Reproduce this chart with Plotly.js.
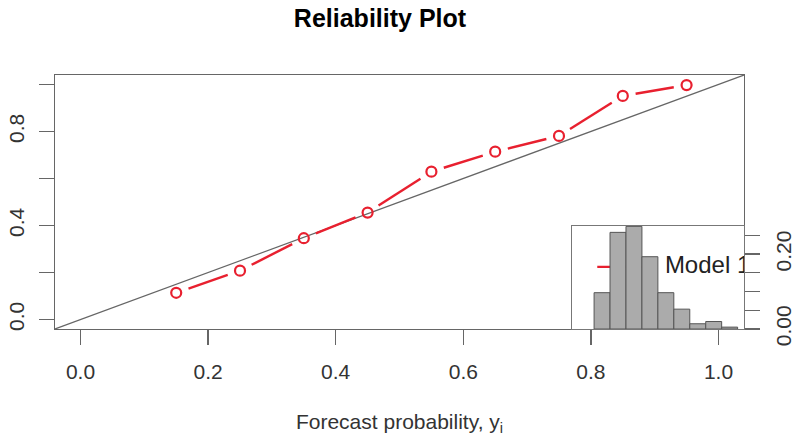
<!DOCTYPE html>
<html>
<head>
<meta charset="utf-8">
<script src="https://cdn.plot.ly/plotly-3.0.1.min.js"></script>
<style>html,body{margin:0;padding:0;background:#fff;}#chart{width:800px;height:443px;}</style>
</head>
<body>
<div id="chart"></div>
<script>
// ---- data ----
const forecastBins = [0.15, 0.25, 0.35, 0.45, 0.55, 0.65, 0.75, 0.85, 0.95];
const observedFreq = [0.114, 0.208, 0.346, 0.455, 0.629, 0.714, 0.781, 0.951, 0.997];
const histFreq = [0.097, 0.258, 0.274, 0.193, 0.097, 0.053, 0.014, 0.020, 0.005];
const seriesName = "Model 1";
const xTickVals = [0, 0.2, 0.4, 0.6, 0.8, 1.0];
const xTickText = ["0.0", "0.2", "0.4", "0.6", "0.8", "1.0"];
const yTickVals = [0, 0.4, 0.8];
const yTickText = ["0.0", "0.4", "0.8"];
const histTickVals = [0, 0.20];
const histTickText = ["0.00", "0.20"];

// ---- layout constants ----
const W = 800, H = 443;
const M = {l: 55, r: 56, t: 75, b: 114};
const xRange = [-0.04, 1.04], yRange = [-0.04, 1.04];
const sx = (W - M.l - M.r) / (xRange[1] - xRange[0]);
const sy = (H - M.t - M.b) / (yRange[1] - yRange[0]);
const RED = '#e8202f';
const FONT = 'Liberation Sans, Arial, Helvetica, sans-serif';

// line segments with gaps around the points (R type="b")
function gapped(xs, ys, gapPx) {
  const gx = [], gy = [];
  for (let i = 0; i < xs.length - 1; i++) {
    const dx = (xs[i+1] - xs[i]) * sx, dy = (ys[i+1] - ys[i]) * sy;
    const L = Math.hypot(dx, dy);
    if (L <= 2 * gapPx) continue;
    const ux = dx / L, uy = dy / L;
    gx.push(xs[i] + ux * gapPx / sx, xs[i+1] - ux * gapPx / sx, null);
    gy.push(ys[i] + uy * gapPx / sy, ys[i+1] - uy * gapPx / sy, null);
  }
  return {x: gx, y: gy};
}
const seg = gapped(forecastBins, observedFreq, 13);

// legend position (main data coords) inside the inset area
const legY = 0.224;
const legLineX = [0.81, 0.88];
const legTextX = 0.916;

const traces = [
  {x: xRange, y: yRange, mode: 'lines', line: {color: '#666', width: 1.2}, hoverinfo: 'skip', showlegend: false, xaxis: 'x', yaxis: 'y'},
  {x: seg.x, y: seg.y, mode: 'lines', line: {color: RED, width: 2.4}, showlegend: false, xaxis: 'x', yaxis: 'y', connectgaps: false},
  {x: forecastBins, y: observedFreq, mode: 'markers', name: seriesName,
   marker: {symbol: 'circle-open', size: 10, color: RED, line: {color: RED, width: 2.2}}, showlegend: false, xaxis: 'x', yaxis: 'y'},
  // legend sample
  {x: legLineX, y: [legY, legY], mode: 'lines', line: {color: RED, width: 2.4}, showlegend: false, hoverinfo: 'skip', xaxis: 'x', yaxis: 'y'},
  {x: [legTextX], y: [legY], mode: 'text', text: [seriesName], textposition: 'middle right', cliponaxis: true,
   textfont: {family: FONT, size: 24, color: '#222'}, showlegend: false, hoverinfo: 'skip', xaxis: 'x', yaxis: 'y'},
  // inset histogram
  {type: 'bar', x: forecastBins, y: histFreq, width: 0.1, marker: {color: '#ababab', line: {color: '#555', width: 1}},
   showlegend: false, xaxis: 'x2', yaxis: 'y2'}
];

const axisFont = {family: FONT, size: 21, color: '#333'};
const layout = {
  width: W, height: H,
  margin: M,
  paper_bgcolor: '#ffffff',
  plot_bgcolor: 'rgba(0,0,0,0)',
  font: {family: FONT, color: '#222'},
  showlegend: false,
  title: {text: '<b>Reliability Plot</b>', font: {family: FONT, size: 25, color: '#000'},
          xref: 'container', x: 0.475, xanchor: 'center', yref: 'container', y: 0.958, yanchor: 'middle'},
  xaxis: {
    domain: [0, 1], range: xRange, showgrid: false, zeroline: false,
    showline: true, mirror: true, linecolor: '#666', linewidth: 1.3,
    ticks: 'outside', ticklen: 15, tickcolor: '#666', tickwidth: 1.3,
    tickvals: xTickVals, ticktext: xTickText, tickfont: axisFont, ticklabelstandoff: 8,
    title: {text: 'Forecast probability, y<sub>i</sub>', font: {family: FONT, size: 21, color: '#333'}, standoff: 32}
  },
  yaxis: {
    domain: [0, 1], range: yRange, showgrid: false, zeroline: false,
    showline: true, mirror: true, linecolor: '#666', linewidth: 1.3,
    ticks: 'outside', ticklen: 15, tickcolor: '#666', tickwidth: 1.3,
    tickvals: yTickVals, ticktext: yTickText, tickfont: axisFont, tickangle: -90, ticklabelstandoff: 6,
    minor: {tick0: 0, dtick: 0.2, ticks: 'outside', ticklen: 15, tickcolor: '#666', tickwidth: 1.3, showgrid: false}
  },
  xaxis2: {
    domain: [0.75, 1], range: xRange, anchor: 'y2', showgrid: false, zeroline: false,
    showline: true, mirror: true, linecolor: '#777', linewidth: 1.2, showticklabels: false, ticks: ''
  },
  yaxis2: {
    domain: [0, 0.4055], range: [0, 0.275], anchor: 'x2', side: 'right', showgrid: false, zeroline: false,
    showline: true, mirror: true, linecolor: '#777', linewidth: 1.2,
    ticks: 'outside', ticklen: 15, tickcolor: '#666', tickwidth: 1.2,
    tickvals: histTickVals, ticktext: histTickText, tickfont: axisFont, tickangle: -90, ticklabelstandoff: 6,
    minor: {tick0: 0, dtick: 0.05, ticks: 'outside', ticklen: 15, tickcolor: '#666', tickwidth: 1.2, showgrid: false}
  },
  bargap: 0
};

Plotly.newPlot('chart', traces, layout, {staticPlot: true, displayModeBar: false});
</script>
</body>
</html>
